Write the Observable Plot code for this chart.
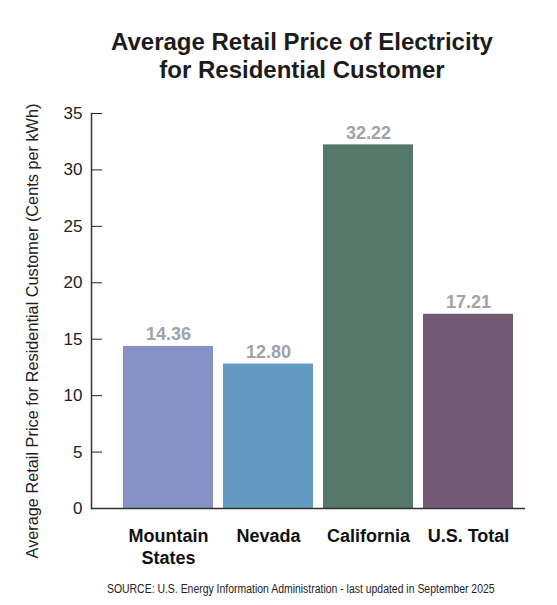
<!DOCTYPE html>
<html>
<head>
<meta charset="utf-8">
<script src="https://cdn.jsdelivr.net/npm/d3@7"></script>
<script src="https://cdn.jsdelivr.net/npm/@observablehq/plot@0.6"></script>
<style>
  body { margin: 0; background: #fff; font-family: "Liberation Sans", Arial, sans-serif; }
  #page { position: relative; width: 557px; height: 605px; }
  #title { position: absolute; top: 28px; left: 0; width: 604px; text-align: center; font-size: 24px; font-weight: bold; line-height: 28px; color: #1c1c1c; }
  #chart { position: absolute; top: 100px; left: 0; }
  #source { position: absolute; top: 582px; left: 0; width: 602px; text-align: center; font-size: 12px; line-height: 14px; color: #222; }
  #source span { display: inline-block; transform: scaleX(0.87); }
</style>
</head>
<body>
<div id="page">
  <div id="title">Average Retail Price of Electricity<br>for Residential Customer</div>
  <div id="chart"></div>
  <div id="source"><span>SOURCE: U.S. Energy Information Administration - last updated in September 2025</span></div>
</div>
<script>
  const regions = ["Mountain States", "Nevada", "California", "U.S. Total"];
  const tickLabels = ["Mountain\nStates", "Nevada", "California", "U.S. Total"];
  const prices = [14.36, 12.80, 32.22, 17.21];
  const barColors = ["#8790c3", "#6499c2", "#56786b", "#735a74"];
  const yTicks = [0, 5, 10, 15, 20, 25, 30, 35];
  const yLabel = "Average Retail Price for Residential Customer (Cents per kWh)";

  const data = regions.map((region, i) => ({region, price: prices[i]}));

  let chart = Plot.plot({
    width: 557,
    height: 470,
    marginTop: 13,
    marginBottom: 62,
    marginLeft: 91,
    marginRight: 32,
    style: {fontFamily: "Liberation Sans, Arial, sans-serif", fontSize: "17px", color: "#222", background: "#fff"},
    x: {domain: regions, paddingInner: 0.1, paddingOuter: 0.05, insetLeft: 26, insetRight: 6},
    y: {domain: [0, 35]},
    color: {domain: regions, range: barColors},
    marks: [
      Plot.barY(data, {x: "region", y: "price", fill: "region"}),
      Plot.text(data, {
        x: "region",
        y: "price",
        text: d => d.price.toFixed(2),
        lineAnchor: "bottom",
        dy: -6,
        fill: "#a0a3a9",
        fontSize: 18,
        fontWeight: "bold"
      }),
      Plot.axisY({ticks: yTicks, tickSize: -11, tickPadding: 20, label: null, fontSize: 17, color: "#222"}),
      Plot.axisX({
        tickSize: 0,
        tickPadding: 19,
        label: null,
        tickFormat: d => tickLabels[regions.indexOf(d)],
        fontSize: 18,
        fontWeight: "bold",
        lineHeight: 1.17,
        color: "#111"
      }),
      Plot.frame({anchor: "left", stroke: "#333", strokeWidth: 1.5}),
      Plot.ruleY([0], {stroke: "#333", strokeWidth: 1.5}),
      Plot.text([yLabel], {
        text: d => d,
        frameAnchor: "left",
        textAnchor: "middle",
        rotate: -90,
        dx: -59,
        dy: 20,
        fontSize: 16.3,
        fill: "#222"
      })
    ]
  });

  d3.select("#chart").append(() => chart);
</script>
</body>
</html>
